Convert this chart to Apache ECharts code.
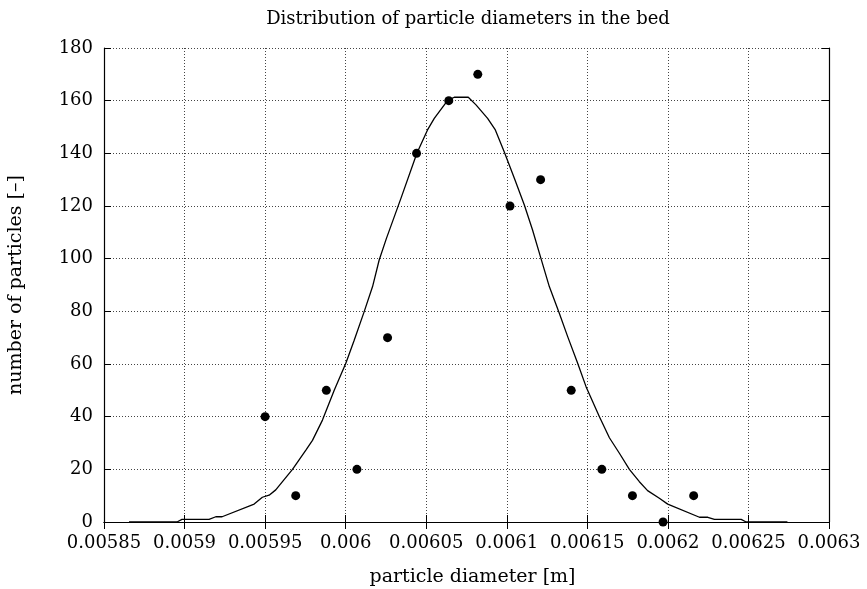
<!DOCTYPE html>
<html>
<head>
<meta charset="utf-8">
<script src="https://cdn.jsdelivr.net/npm/echarts@6/dist/echarts.min.js"></script>
<style>html,body{margin:0;padding:0;background:#fff}#c{width:867px;height:589px}</style>
</head>
<body>
<div id="c"></div>
<script>
// measured counts (scatter)
var binDiameters = [0.00595, 0.005969, 0.005988, 0.006007, 0.006026, 0.006044, 0.006064, 0.006082, 0.006102, 0.006121, 0.00614, 0.006159, 0.006178, 0.006197, 0.006216];
var binCounts = [40, 10, 50, 20, 70, 140, 160, 170, 120, 130, 50, 20, 10, 0, 10];
// fitted distribution curve
var curveDiameters = [0.0058655, 0.0058953, 0.0058984, 0.0059152, 0.0059194, 0.0059233, 0.0059432, 0.0059483, 0.0059525, 0.0059566, 0.0059670, 0.0059753, 0.0059794, 0.0059856, 0.0059929, 0.0060001, 0.0060053, 0.0060115, 0.0060167, 0.0060208, 0.0060253, 0.0060343, 0.0060442, 0.0060508, 0.0060550, 0.0060632, 0.0060674, 0.0060761, 0.0060809, 0.0060881, 0.0060929, 0.0060984, 0.0061047, 0.0061109, 0.0061160, 0.0061212, 0.0061264, 0.0061326, 0.0061378, 0.0061440, 0.0061492, 0.0061575, 0.0061637, 0.0061699, 0.0061761, 0.0061823, 0.0061874, 0.0061947, 0.0061999, 0.0062196, 0.0062248, 0.0062289, 0.0062455, 0.0062486, 0.0062742];
var curveCounts = [0, 0, 1, 1, 2, 2, 6.8, 9.4, 10.2, 12.2, 20, 27.3, 31, 38.7, 50, 60.3, 69, 79.9, 89.4, 99.5, 107.7, 122.9, 140, 148.9, 153.3, 160, 161.3, 161.3, 158.4, 153.3, 148.9, 140.6, 130.5, 120.4, 110.9, 100.1, 89.4, 79.3, 70.4, 60.3, 51.4, 40, 32, 26.1, 20, 15.3, 11.9, 9.0, 6.8, 1.8, 1.8, 1.0, 1.0, 0, 0];
// axes
var xMin = 0.00585, xMax = 0.0063, xStep = 0.00005;
var yMin = 0, yMax = 180, yStep = 20;
var titleText = 'Distribution of particle diameters in the bed';
var xName = 'particle diameter [m]';
var yName = 'number of particles [–]';

var FONT = 'DejaVu Serif';
function zip(a, b) { return a.map(function (v, i) { return [v, b[i]]; }); }
var fmtX = function (v) { return parseFloat(v.toFixed(6)).toString(); };
var tickStyle = { show: true, inside: true, length: 7, lineStyle: { color: '#000', width: 1 } };
var lineStyle = { show: true, lineStyle: { color: '#000', width: 1.2 } };
var gridLine = { show: true, lineStyle: { color: '#444', type: [1, 2], width: 1 } };

var chart = echarts.init(document.getElementById('c'), null, { renderer: 'canvas' });
chart.setOption({
  animation: false,
  backgroundColor: '#fff',
  title: {
    text: titleText, left: 463, top: 5, textAlign: 'center',
    textStyle: { fontFamily: FONT, fontSize: 18, fontWeight: 'normal', color: '#000' }
  },
  grid: { left: 104, right: 38, top: 48, bottom: 67, containLabel: false, outerBoundsMode: 'none' },
  xAxis: [{
    type: 'value', min: xMin, max: xMax, interval: xStep,
    name: xName, nameLocation: 'middle', nameGap: 46,
    nameTextStyle: { fontFamily: FONT, fontSize: 19, color: '#000', padding: [0, 0, 0, 12] },
    axisLine: lineStyle, axisTick: tickStyle, splitLine: gridLine,
    axisLabel: { formatter: fmtX, fontFamily: FONT, fontSize: 18, color: '#000', margin: 12, showMinLabel: true, showMaxLabel: true }
  }, {
    type: 'value', position: 'top', min: xMin, max: xMax, interval: xStep,
    axisLine: lineStyle, axisTick: tickStyle, splitLine: { show: false }, axisLabel: { show: false }
  }],
  yAxis: [{
    type: 'value', min: yMin, max: yMax, interval: yStep,
    name: yName, nameLocation: 'middle', nameGap: 78, nameRotate: 90,
    nameTextStyle: { fontFamily: FONT, fontSize: 19, color: '#000' },
    axisLine: lineStyle, axisTick: tickStyle, splitLine: gridLine,
    axisLabel: { fontFamily: FONT, fontSize: 18, color: '#000', margin: 11 }
  }, {
    type: 'value', position: 'right', min: yMin, max: yMax, interval: yStep,
    axisLine: lineStyle, axisTick: tickStyle, splitLine: { show: false }, axisLabel: { show: false }
  }],
  series: [{
    type: 'line', data: zip(curveDiameters, curveCounts), showSymbol: false, symbol: 'none',
    lineStyle: { color: '#000', width: 1.3 }, xAxisIndex: 0, yAxisIndex: 0, z: 3
  }, {
    type: 'scatter', data: zip(binDiameters, binCounts), symbol: 'circle', symbolSize: 9,
    itemStyle: { color: '#000', opacity: 1 }, xAxisIndex: 0, yAxisIndex: 0, z: 4
  }]
});
</script>
</body>
</html>
